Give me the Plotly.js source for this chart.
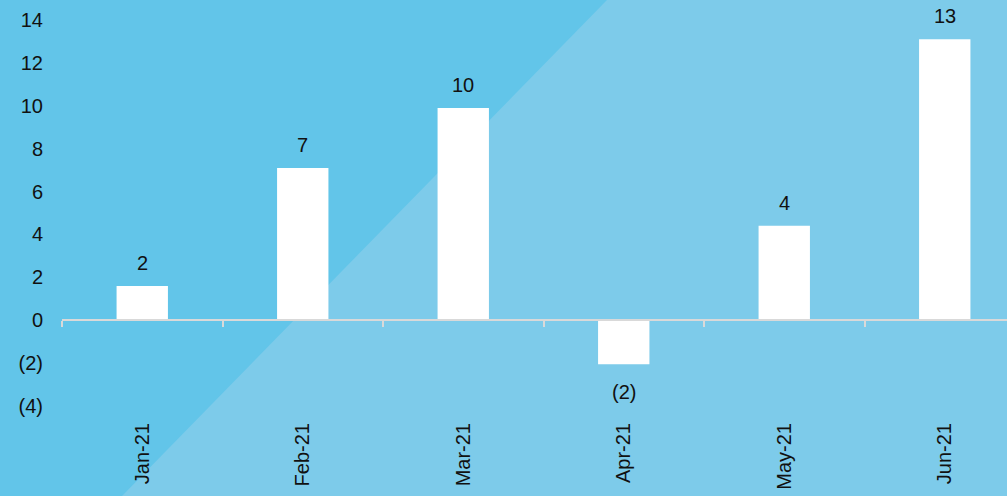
<!DOCTYPE html>
<html>
<head>
<meta charset="utf-8">
<script src="https://cdn.plot.ly/plotly-3.0.1.min.js"></script>
<style>html,body{margin:0;padding:0;background:#7dcbea;}#chart{width:1007px;height:496px;}</style>
</head>
<body>
<div id="chart"></div>
<script>
var months = ["Jan-21", "Feb-21", "Mar-21", "Apr-21", "May-21", "Jun-21"];
var values = [1.6, 7.1, 9.9, -2.05, 4.4, 13.1];
var yTickVals = [-4, -2, 0, 2, 4, 6, 8, 10, 12, 14];

function fmt(v) {
  var r = Math.round(v);
  return r < 0 ? "(" + Math.abs(r) + ")" : String(r);
}

var FONT = "Liberation Sans, Arial, sans-serif";
var idx = months.map(function (m, i) { return i; });

var bars = {
  type: "bar",
  x: idx,
  y: values,
  marker: { color: "#ffffff", line: { width: 0 } },
  width: 0.32,
  hoverinfo: "skip",
  xaxis: "x",
  yaxis: "y"
};

var annotations = values.map(function (v, i) {
  return {
    x: i, y: v, xref: "x", yref: "y",
    text: fmt(v), showarrow: false,
    yanchor: v >= 0 ? "bottom" : "top",
    yshift: v >= 0 ? 10 : -15,
    font: { family: FONT, size: 20, color: "#111111" }
  };
});

var yMin = yTickVals[0], yMax = yTickVals[yTickVals.length - 1];
var xMax = -0.5 + 945 / (963 / months.length);

var layout = {
  width: 1007, height: 496,
  margin: { l: 62, r: 0, t: 20, b: 90, pad: 0 },
  paper_bgcolor: "#7dcbea",
  plot_bgcolor: "rgba(0,0,0,0)",
  showlegend: false,
  font: { family: FONT, size: 20, color: "#111111" },
  xaxis: {
    type: "linear",
    range: [-0.5, xMax],
    tickvals: idx,
    ticktext: months,
    tickangle: -90,
    showgrid: false, zeroline: false, showline: false,
    ticks: "outside", ticklen: 8, tickcolor: "rgba(0,0,0,0)",
    tickfont: { family: FONT, size: 20, color: "#111111" },
    fixedrange: true
  },
  xaxis2: {
    type: "linear",
    overlaying: "x",
    anchor: "free",
    position: (0 - yMin) / (yMax - yMin),
    range: [-0.5, xMax],
    tickvals: idx.concat([months.length]).map(function (i) { return i - 0.5; }),
    showticklabels: false,
    ticks: "outside", ticklen: 6, tickwidth: 2, tickcolor: "#d9d9d9",
    showline: true, linecolor: "#d9d9d9", linewidth: 2,
    showgrid: false, zeroline: false,
    fixedrange: true
  },
  yaxis: {
    range: [yMin, yMax],
    tickvals: yTickVals,
    ticktext: yTickVals.map(fmt),
    showgrid: false, zeroline: false, showline: false,
    ticks: "outside", ticklen: 14, tickcolor: "rgba(0,0,0,0)",
    tickfont: { family: FONT, size: 20, color: "#111111" },
    fixedrange: true
  },
  shapes: [{
    type: "path",
    xref: "paper", yref: "paper",
    path: "M -0.0656 1.0518 L 0.5767 1.0518 L 0.0635 -0.2332 L -0.0656 -0.2332 Z",
    fillcolor: "#62c5e9",
    line: { width: 0 },
    layer: "below"
  }],
  annotations: annotations
};

var dummy = { type: "scatter", x: [], y: [], xaxis: "x2", yaxis: "y", hoverinfo: "skip" };

Plotly.newPlot("chart", [bars, dummy], layout, { displayModeBar: false, staticPlot: true });
</script>
</body>
</html>
